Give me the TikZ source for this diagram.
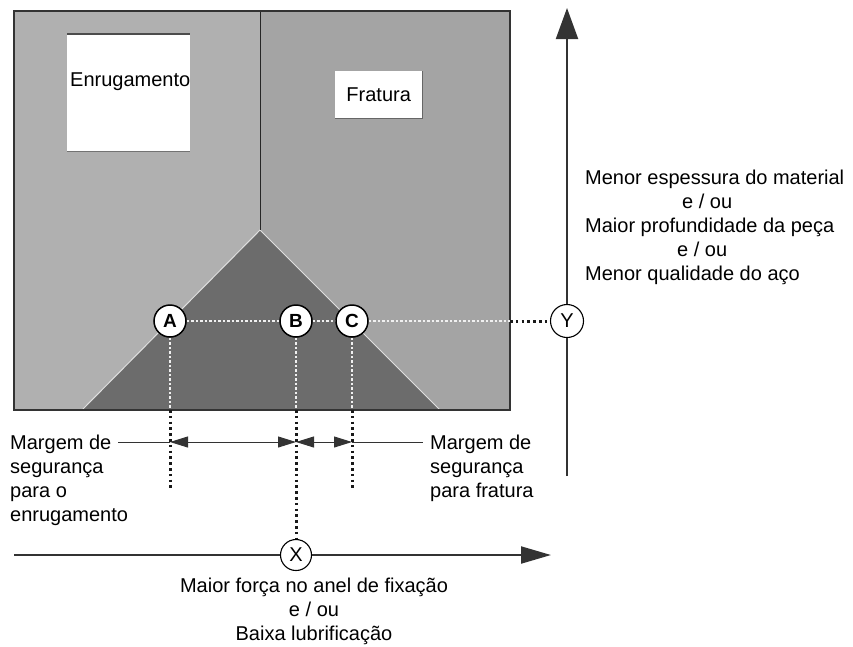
\documentclass[tikz,border=0pt]{standalone}
\usepackage{fontspec}
\setmainfont{Liberation Sans}
\usetikzlibrary{arrows.meta}
\definecolor{leftgray}{HTML}{B0B0B0}
\definecolor{rightgray}{HTML}{A4A4A4}
\definecolor{trigray}{HTML}{6C6C6C}
\definecolor{axisgray}{HTML}{333333}
\tikzset{
  txt/.style={inner sep=0pt, font=\fontsize{20}{24}\selectfont},
  whitebox/.style={fill=white, draw=none, inner sep=0pt, anchor=north west},
  ptcircle/.style={circle, draw=black, fill=white, line width=1.5pt, minimum size=32pt, inner sep=0pt, font=\fontsize{19}{20}\selectfont\bfseries},
  axcircle/.style={circle, draw=black, fill=white, line width=1.1pt, minimum size=33pt, inner sep=0pt, font=\fontsize{20}{20}\selectfont},
  innerdot/.style={draw=white!88!gray, line width=1.8pt, dash pattern=on 2.5pt off 2pt},
  outerdot/.style={draw=black!90, line width=3pt, dash pattern=on 2.6pt off 3.2pt},
  dimline/.style={draw=axisgray, line width=1pt},
  dimarrows/.style={arrows={Triangle[length=18pt,width=11pt]-Triangle[length=18pt,width=11pt]}},
  axisline/.style={draw=axisgray, line width=2pt},
}
\begin{document}
\begin{tikzpicture}[x=1pt,y=-1pt]
\useasboundingbox (0,0) rectangle (853,646);
% regions
\fill[leftgray] (14,11) rectangle (260,410);
\fill[rightgray] (260,11) rectangle (510,410);
\fill[trigray] (82,410) -- (260,230) -- (440,410) -- cycle;
\draw[white!75!gray, line width=1pt] (82,410) -- (260,230) -- (440,410);
\draw[black!85, line width=1pt] (260,11) -- (260,230);
\draw[black!80, line width=1.6pt] (14,11) rectangle (510,410);
% region labels
\node[whitebox, minimum width=123pt, minimum height=117pt] (enrbox) at (67,34) {};
\draw[black!70, line width=1.2pt] (enrbox.north west) -- (enrbox.north east);
\draw[black!55, line width=1pt] (enrbox.south west) -- (enrbox.south east);
\node[txt, anchor=west] (enrtext) at (70,82) {Enrugamento};
\node[whitebox, minimum width=87pt, minimum height=47pt] (frabox) at (335,71) {};
\draw[black!60, line width=1.4pt] (frabox.south west) -- (frabox.south east) -- (frabox.north east);
\node[txt] (fratext) at (frabox.center) {Fratura};
% points
\node[ptcircle] (A) at (170,321) {A};
\node[ptcircle] (B) at (296,321) {B};
\node[ptcircle] (C) at (352,321) {C};
\node[axcircle] (Y) at (567,321) {Y};
\node[axcircle, minimum size=31pt] (X) at (296,555) {X};
% helper coordinates
\coordinate (boxbottom) at (0,410);
\coordinate (boxright) at (510,321);
\coordinate (Aend) at (170,488);
\coordinate (Cend) at (352,488);
\coordinate (dimy) at (0,442);
\coordinate (Lstart) at (118,442);
\coordinate (Rend) at (423,442);
\coordinate (xstart) at (14,555);
\coordinate (xend) at (551,555);
\coordinate (ybot) at (567,476);
\coordinate (ytop) at (567,8);
% dotted connectors
\draw[innerdot] (A) -- (B);
\draw[innerdot] (B) -- (C);
\draw[innerdot] (C) -- (boxright);
\draw[outerdot] (boxright) -- (Y);
\draw[innerdot] (A) -- (A |- boxbottom);
\draw[innerdot] (B) -- (B |- boxbottom);
\draw[innerdot] (C) -- (C |- boxbottom);
\draw[outerdot] (A |- boxbottom) -- (Aend);
\draw[outerdot] (B |- boxbottom) -- (X);
\draw[outerdot] (C |- boxbottom) -- (Cend);
% dimension lines
\draw[dimline] (Lstart) -- (A |- dimy);
\draw[dimline, dimarrows] (A |- dimy) -- (B |- dimy);
\draw[dimline, dimarrows] (B |- dimy) -- (C |- dimy);
\draw[dimline] (C |- dimy) -- (Rend);
% axes
\draw[axisline] (xstart) -- (X);
\draw[axisline, -{Triangle[length=30pt,width=17pt]}] (X) -- (xend);
\draw[axisline] (ybot) -- (Y);
\draw[axisline, -{Triangle[length=31pt,width=22pt]}] (Y) -- (ytop);
% labels
\node[txt, anchor=north west, align=left] (leftlab) at (10,434.5) {Margem de\\segurança\\para o\\enrugamento};
\node[txt, anchor=north west, align=left] (rightlab) at (430,434.5) {Margem de\\segurança\\para fratura};
\node[txt, anchor=north, align=center] (xlab) at (314,578) {Maior força no anel de fixação\\e / ou\\Baixa lubrificação};
\node[txt, anchor=north west, align=left] (ylab) at (585,169.5) {Menor espessura do material\\\hspace*{97pt}e / ou\\Maior profundidade da peça\\\hspace*{92pt}e / ou\\Menor qualidade do aço};
\end{tikzpicture}
\end{document}
